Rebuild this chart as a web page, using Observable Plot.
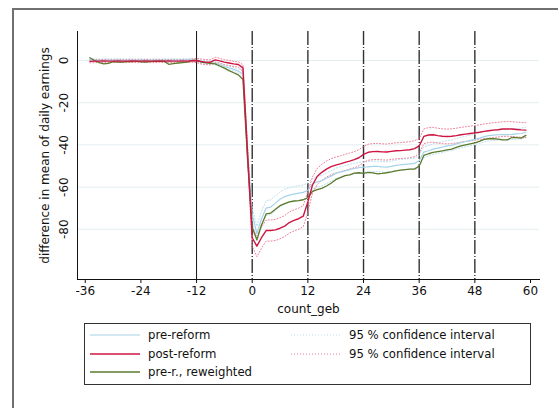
<!DOCTYPE html>
<html><head><meta charset="utf-8">
<script src="https://cdn.jsdelivr.net/npm/d3@7"></script>
<script src="https://cdn.jsdelivr.net/npm/@observablehq/plot@0.6"></script>
<style>
body{margin:0;background:#fff;width:558px;height:408px;overflow:hidden;position:relative;font-family:"DejaVu Sans",sans-serif;}
#frame{position:absolute;left:12px;top:8px;width:600px;height:500px;border-left:2px solid #707070;border-top:2px solid #707070;}
#chart{position:absolute;left:0;top:0;}
#legend{position:absolute;left:84px;top:323px;width:447px;height:62px;border:1px solid #333;box-sizing:border-box;font-size:11.7px;color:#111;}
.item{position:absolute;height:16px;line-height:16px;white-space:nowrap;}
.item svg{position:absolute;left:0;top:0;}
.item span{position:absolute;left:58px;top:0;}
</style></head>
<body>
<div id="frame"></div>
<div id="chart"></div>
<div id="legend"></div>
<script>
const months = d3.range(-35, 60);
const xTicks = [-36, -24, -12, 0, 12, 24, 36, 48, 60];
const yTicks = [0, -20, -40, -60, -80];
const vSolid = [-12];
const vDashed = [0, 12, 24, 36, 48];

const preReform = [
 0.3,0.2,0.1,0.1,0.2,0.1,0.2,0.1,0.1,0.2,0.1,0.2,0.1,0.1,0.2,0.1,0.2,0.1,0.2,0.1,0.2,0.3,0.3,
 0,-0.6,-1.0,-1.2,-1.2,-2.0,-2.8,-3.5,-4.2,-5.0,-6.5,-44,
 -73,-82,-75,-70,-69.5,-67.6,-65.8,-64.5,-63.8,-63.3,-62.9,-62.5,-61.5,
 -58.5,-57.5,-57,-55.8,-54.8,-53.5,-52.9,-52.3,-51.7,-51.2,-50.8,-50.5,-50.4,-50.2,-50.2,-50.4,-50.5,-50.2,-49.7,-49.4,-49.2,-49,-48.8,
 -47.5,-43.4,-42.8,-42,-41.5,-41.1,-40.5,-40.2,-39.5,-38.9,-38.4,-37.9,-37.4,-36.8,-36.1,-35.6,-35.4,-35.2,-35.1,-35.1,-35,-34.8,-34.6,-34
];
const postReform = [
 -0.4,-0.3,-0.3,-0.2,-0.3,-0.3,-0.2,-0.3,-0.3,-0.2,-0.3,-0.3,-0.2,-0.3,-0.3,-0.2,-0.3,-0.2,-0.3,-0.3,-0.2,-0.3,-0.1,
 0,-0.5,-0.8,-0.8,0.3,-0.2,-0.8,-1.2,-1.6,-1.9,-3.5,-44,
 -84,-88,-84,-80.6,-80.6,-80.3,-79.5,-78.5,-76.8,-75.8,-75,-73.8,-67,
 -59,-55,-53,-51.5,-50.3,-49.6,-49,-48.3,-47.7,-47,-46.1,-44.5,-43.5,-43.2,-43.1,-43.3,-43.4,-43.1,-42.8,-42.7,-42.5,-42.3,-41.8,
 -40.5,-36,-35.3,-35.2,-35.6,-35.9,-36,-35.9,-35.6,-35.2,-34.9,-34.6,-34.3,-34,-33.6,-33.3,-33,-32.8,-32.5,-32.4,-32.5,-32.7,-32.9,-33
];
const preReweighted = [
 1.3,0,-1,-1.6,-1.4,-0.5,-0.8,-0.8,-0.5,-0.5,-0.3,-0.6,-0.8,-0.5,-0.3,-0.4,-0.3,-1.8,-1.5,-1.2,-1.0,-0.8,0,
 0,-0.8,-1.1,-1.3,-1.6,-2.6,-3.6,-4.8,-5.8,-6.8,-9,-47,
 -79,-85,-78,-72.7,-72.3,-70.5,-68.8,-67.8,-67,-66.6,-66.4,-66,-65,
 -62,-61.2,-60.6,-59.5,-58.2,-56.5,-55.5,-54.6,-54.2,-53.4,-53.2,-53.5,-53,-53.3,-53.7,-53.5,-53.2,-52.8,-52.3,-52,-51.7,-51.5,-51.5,
 -50,-45,-44.2,-43.6,-43.2,-42.8,-42.4,-42,-41.2,-40.5,-40,-39.5,-39,-38.3,-37.4,-37.1,-37.1,-37.3,-37.6,-37.6,-36.5,-36.6,-36.8,-35.5
];
const preCIhi = [
 0.9,0.8,0.7,0.7,0.8,0.7,0.8,0.7,0.7,0.8,0.7,0.8,0.7,0.7,0.8,0.7,0.8,0.7,0.8,0.7,0.8,0.9,0.9,
 0.8,0.2,-0.2,-0.4,-0.4,-1.1,-1.9,-2.6,-3.3,-4.0,-5.0,-41,
 -70,-78.5,-71.5,-66.5,-66,-64.1,-62.3,-61,-60.3,-59.8,-59.4,-59,-58,
 -56,-55,-54.5,-53.3,-52.3,-51,-50.4,-49.8,-49.2,-48.7,-48.3,-48,-47.9,-47.7,-47.7,-47.9,-48,-47.7,-47.2,-46.9,-46.7,-46.5,-46.3,
 -45,-40.9,-40.3,-39.5,-39,-38.6,-38,-37.7,-37,-36.4,-35.9,-35.4,-34.9,-34.3,-33.6,-33.1,-32.9,-32.7,-32.6,-32.6,-32.5,-32.3,-32.1,-31.5
];
const preCIlo = [
 -0.3,-0.4,-0.5,-0.5,-0.4,-0.5,-0.4,-0.5,-0.5,-0.4,-0.5,-0.4,-0.5,-0.5,-0.4,-0.5,-0.4,-0.5,-0.4,-0.5,-0.4,-0.3,-0.3,
 -0.8,-1.4,-1.8,-2.0,-2.0,-2.9,-3.7,-4.4,-5.1,-6.0,-8.0,-47,
 -76,-85.5,-78.5,-73.5,-73,-71.1,-69.3,-68,-67.3,-66.8,-66.4,-66,-65,
 -61,-60,-59.5,-58.3,-57.3,-56,-55.4,-54.8,-54.2,-53.7,-53.3,-53,-52.9,-52.7,-52.7,-52.9,-53,-52.7,-52.2,-51.9,-51.7,-51.5,-51.3,
 -50,-45.9,-45.3,-44.5,-44,-43.6,-43,-42.7,-42,-41.4,-40.9,-40.4,-39.9,-39.3,-38.6,-38.1,-37.9,-37.7,-37.6,-37.6,-37.5,-37.3,-37.1,-36.5
];
const postCIhi = [
 0.3,0.4,0.4,0.5,0.4,0.4,0.5,0.4,0.4,0.5,0.4,0.4,0.5,0.4,0.4,0.5,0.4,0.5,0.4,0.4,0.5,0.4,0.6,
 1.0,0.7,0.4,0.4,1.5,1.0,0.4,0.0,-0.4,-0.7,-2.0,-41,
 -80,-83,-79,-75.6,-75.6,-75.3,-74.5,-73.5,-71.8,-70.8,-70,-68.8,-62,
 -55.2,-51.2,-49.2,-47.7,-46.5,-45.8,-45.2,-44.5,-43.9,-43.2,-42.3,-40.7,-39.7,-39.4,-39.3,-39.5,-39.6,-39.3,-39,-38.9,-38.7,-38.5,-38,
 -37,-32.5,-31.8,-31.7,-32.1,-32.4,-32.5,-32.4,-32.1,-31.7,-31.4,-31.1,-30.8,-30.5,-30.1,-29.8,-29.5,-29.3,-29,-28.9,-29,-29.2,-29.4,-29.5
];
const postCIlo = [
 -1.1,-1.0,-1.0,-0.9,-1.0,-1.0,-0.9,-1.0,-1.0,-0.9,-1.0,-1.0,-0.9,-1.0,-1.0,-0.9,-1.0,-0.9,-1.0,-1.0,-0.9,-1.0,-0.8,
 -1.0,-1.7,-2.0,-2.0,-0.9,-1.4,-2.0,-2.4,-2.8,-3.1,-5.0,-47,
 -88,-93,-89,-85.6,-85.6,-85.3,-84.5,-83.5,-81.8,-80.8,-80,-78.8,-72,
 -62.8,-58.8,-56.8,-55.3,-54.1,-53.4,-52.8,-52.1,-51.5,-50.8,-49.9,-48.3,-47.3,-47,-46.9,-47.1,-47.2,-46.9,-46.6,-46.5,-46.3,-46.1,-45.6,
 -44,-39.5,-38.8,-38.7,-39.1,-39.4,-39.5,-39.4,-39.1,-38.7,-38.4,-38.1,-37.8,-37.5,-37.1,-36.8,-36.5,-36.3,-36,-35.9,-36,-36.2,-36.4,-36.5
];

const C = {pre:"#a6d4e8", post:"#cf1441", rew:"#5b7a2c", preCI:"#b9dfee", postCI:"#ee7f98"};

const series = [
 {v: preCIhi, stroke: C.preCI, w: 1, dash: "1,2"},
 {v: preCIlo, stroke: C.preCI, w: 1, dash: "1,2"},
 {v: postCIhi, stroke: C.postCI, w: 1, dash: "1,2"},
 {v: postCIlo, stroke: C.postCI, w: 1, dash: "1,2"},
 {v: preReform, stroke: C.pre, w: 1.2},
 {v: preReweighted, stroke: C.rew, w: 1.3},
 {v: postReform, stroke: C.post, w: 1.4}
];

const chart = Plot.plot({
  width: 558, height: 320,
  marginLeft: 77, marginRight: 19, marginTop: 31, marginBottom: 41,
  style: {fontFamily: "DejaVu Sans, sans-serif", fontSize: "12px", color: "#111", background: "transparent"},
  x: {domain: [-37.67, 61.94]},
  y: {domain: [-103.8, 13.74]},
  marks: [
    Plot.ruleY(yTicks, {stroke: "#e4eeef", strokeWidth: 1}),
    Plot.ruleX(vSolid, {stroke: "#111", strokeWidth: 1}),
    Plot.ruleX(vDashed, {stroke: "#333", strokeWidth: 1.4, strokeDasharray: "14,2,1,2"}),
    ...series.map(s => Plot.line(s.v, {x: (d, i) => months[i], y: d => d, stroke: s.stroke, strokeWidth: s.w, strokeDasharray: s.dash, curve: "linear"})),
    Plot.frame({anchor: "left", stroke: "#111"}),
    Plot.frame({anchor: "bottom", stroke: "#111"}),
    Plot.axisY({ticks: yTicks, tickSize: 0, tickPadding: 10, tickRotate: -90, tickFormat: d => String(d),
      label: "difference in mean of daily earnings", labelAnchor: "center", labelArrow: "none", labelOffset: 37}),
    Plot.axisX({ticks: xTicks, tickSize: 4, tickPadding: 3, tickFormat: d => String(d),
      label: "count_geb", labelAnchor: "center", labelArrow: "none", labelOffset: 33})
  ]
});
document.getElementById("chart").appendChild(chart);

const legendItems = [
 {label: "pre-reform", stroke: C.pre, w: 1.2, dash: null, left: 5, top: 3},
 {label: "post-reform", stroke: C.post, w: 1.5, dash: null, left: 5, top: 22},
 {label: "pre-r., reweighted", stroke: C.rew, w: 1.5, dash: null, left: 5, top: 40},
 {label: "95 % confidence interval", stroke: C.preCI, w: 1, dash: "1,2", left: 206, top: 3},
 {label: "95 % confidence interval", stroke: C.postCI, w: 1, dash: "1,2", left: 206, top: 22}
];
const leg = document.getElementById("legend");
legendItems.forEach(it => {
  const div = document.createElement("div");
  div.className = "item";
  div.style.left = it.left + "px"; div.style.top = it.top + "px";
  div.innerHTML = `<svg width="52" height="16"><line x1="0" x2="50" y1="8" y2="8" stroke="${it.stroke}" stroke-width="${it.w}" ${it.dash ? `stroke-dasharray="${it.dash}"` : ""}/></svg><span>${it.label}</span>`;
  leg.appendChild(div);
});
</script>
</body></html>
